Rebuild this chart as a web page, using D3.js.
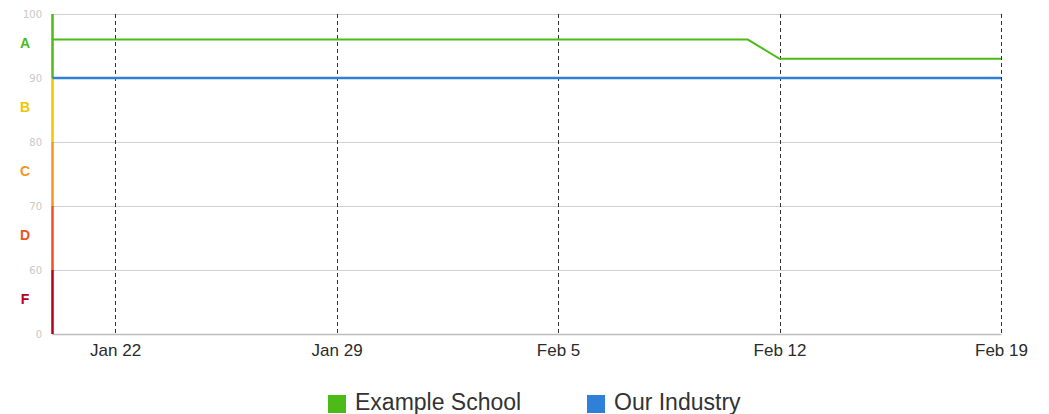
<!DOCTYPE html>
<html>
<head>
<meta charset="utf-8">
<script src="https://cdn.jsdelivr.net/npm/d3@7"></script>
<style>
  html, body { margin: 0; padding: 0; background: #fff; }
  svg { display: block; font-family: "Liberation Sans", Arial, sans-serif; }
</style>
</head>
<body>
<svg id="chart" width="1049" height="414"></svg>
<script>
// Score history for the school and the industry average
const dates = ["2025-01-20", "2025-01-27", "2025-02-03", "2025-02-10", "2025-02-11", "2025-02-12", "2025-02-19"];
const schoolScores = [96, 96, 96, 96, 96, 93, 93];
const industryScores = [90, 90, 90, 90, 90, 90, 90];

// Axis ticks and grade bands
const yTicks = [0, 60, 70, 80, 90, 100];
const xTickDates = ["2025-01-22", "2025-01-29", "2025-02-05", "2025-02-12", "2025-02-19"];
const grades = ["A", "B", "C", "D", "F"];
const gradeLow = [90, 80, 70, 60, 0];
const gradeHigh = [100, 90, 80, 70, 60];
const gradeColors = ["#4cbb17", "#f2c500", "#f7941d", "#f4511e", "#b3001b"];

const seriesNames = ["Example School", "Our Industry"];
const seriesColors = ["#4cbb17", "#2f80d9"];

const parse = d3.utcParse("%Y-%m-%d");
const fmt = d3.utcFormat("%b %-d");

const svg = d3.select("#chart");
const plotLeft = 51.8, plotRight = 1001, plotTop = 14, plotBottom = 334;
const bandX = 52.5;

const x = d3.scaleUtc()
  .domain([parse(dates[0]), parse(dates[dates.length - 1])])
  .range([plotLeft, plotRight]);

// Piecewise scale: the F band (0-60) gets the same height as each 10-point band
const bandH = (plotBottom - plotTop) / 5;
const y = d3.scaleLinear()
  .domain(yTicks)
  .range(yTicks.map((_, i) => plotBottom - i * bandH));

// Horizontal grid lines
svg.append("g")
  .selectAll("line")
  .data(yTicks.filter(v => v > 0))
  .join("line")
  .attr("x1", bandX).attr("x2", plotRight)
  .attr("y1", d => Math.round(y(d)) + 0.5).attr("y2", d => Math.round(y(d)) + 0.5)
  .attr("stroke", "#d0d0d0").attr("stroke-width", 1);

// Bottom axis with date labels
const xAxis = svg.append("g")
  .attr("transform", `translate(0,${plotBottom})`)
  .call(d3.axisBottom(x)
    .tickValues(xTickDates.map(parse))
    .tickFormat(fmt)
    .tickSize(0)
    .tickPadding(10));
xAxis.select(".domain").attr("stroke", "#bdbdbd").attr("stroke-width", 1.5);
xAxis.selectAll("text")
  .attr("fill", "#2b2b2b").attr("font-size", 17)
  .attr("font-family", "'Liberation Sans', Arial, sans-serif");

// Dashed vertical lines at each week
svg.append("g")
  .selectAll("line")
  .data(xTickDates.map(parse))
  .join("line")
  .attr("x1", d => Math.round(x(d)) + 0.5).attr("x2", d => Math.round(x(d)) + 0.5)
  .attr("y1", plotTop).attr("y2", plotBottom)
  .attr("stroke", "#333").attr("stroke-width", 1)
  .attr("stroke-dasharray", "4,3");

// Left axis tick labels
svg.append("g")
  .selectAll("text")
  .data(yTicks)
  .join("text")
  .attr("x", 42).attr("y", d => y(d))
  .attr("dy", "0.35em")
  .attr("text-anchor", "end")
  .attr("font-family", "'DejaVu Sans', sans-serif")
  .attr("font-size", 10)
  .attr("fill", "#c8c8c8")
  .text(d => d);

// Coloured grade bands on the left edge
svg.append("g")
  .selectAll("line")
  .data(grades)
  .join("line")
  .attr("x1", bandX).attr("x2", bandX)
  .attr("y1", (d, i) => y(gradeLow[i])).attr("y2", (d, i) => y(gradeHigh[i]))
  .attr("stroke", (d, i) => gradeColors[i]).attr("stroke-width", 2.5);

// Grade letters centred in each band
svg.append("g")
  .selectAll("text")
  .data(grades)
  .join("text")
  .attr("x", 25)
  .attr("y", (d, i) => (y(gradeLow[i]) + y(gradeHigh[i])) / 2 - 2.5)
  .attr("dy", "0.35em")
  .attr("text-anchor", "middle")
  .attr("font-size", 14)
  .attr("font-weight", "bold")
  .attr("fill", (d, i) => gradeColors[i])
  .text(d => d);

// Series lines
const line = d3.line()
  .x((d, i) => Math.max(bandX, x(parse(dates[i]))))
  .y(d => y(d));

svg.append("path")
  .datum(industryScores)
  .attr("fill", "none")
  .attr("stroke", seriesColors[1])
  .attr("stroke-width", 2.4)
  .attr("d", line);

svg.append("path")
  .datum(schoolScores)
  .attr("fill", "none")
  .attr("stroke", seriesColors[0])
  .attr("stroke-width", 2)
  .attr("d", line);

// Legend
const legendX = [328, 587];
const legend = svg.append("g")
  .selectAll("g")
  .data(seriesNames)
  .join("g")
  .attr("transform", (d, i) => `translate(${legendX[i]},395)`);
legend.append("rect")
  .attr("width", 18).attr("height", 18)
  .attr("fill", (d, i) => seriesColors[i]);
legend.append("text")
  .attr("x", 27).attr("y", 15)
  .attr("font-size", 23)
  .attr("fill", "#333")
  .text(d => d);
</script>
</body>
</html>
